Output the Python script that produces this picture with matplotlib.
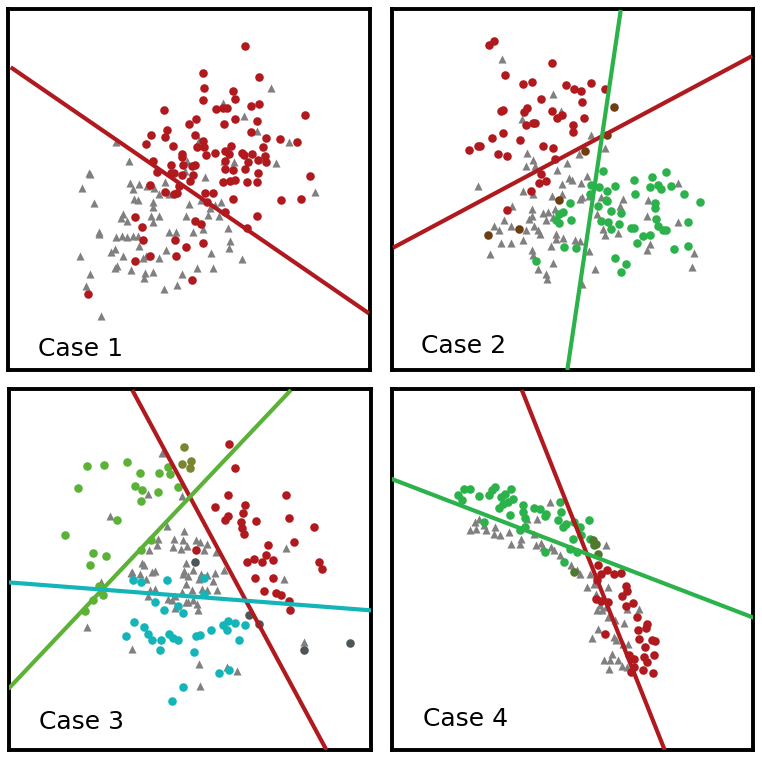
import numpy as np
import matplotlib
matplotlib.use("Agg")
from matplotlib import pyplot as plt

# point positions, in each panel's own units (0..~1100, y down)
c1_red = [(732,137),(607,218),(774,228),(610,262),(698,272),(704,296),(606,298),(490,328),(646,325),
          (668,322),(678,323),(750,318),(775,311),(912,345),(586,357),(566,370),(670,372),(702,355),
          (768,361),(500,390),(494,410),(450,403),(436,430),(582,404),(752,396),(797,413),(838,415),
          (890,424),(608,422),(590,440),(610,440),(517,438),(644,457),(690,437),(672,452),(686,462),
          (724,457),(754,462),(786,440),(730,465),(792,468),(796,484),(772,478),(544,460),(544,470),
          (616,464),(672,482),(742,486),(456,482),(512,493),(546,493),(574,497),(584,494),(468,515),
          (512,518),(520,519),(544,525),(578,525),(674,505),(698,508),(732,505),(772,517),(928,527),
          (568,543),(666,545),(688,542),(702,538),(740,546),(770,545),(448,553),(536,556),(492,576),
          (520,580),(530,578),(612,578),(638,578),(698,595),(842,600),(902,596),(618,606),(672,636),
          (770,646),(402,650),(582,661),(602,671),(738,682),(424,680),(426,720),(524,720),(606,728),
          (556,740),(448,766),(526,766),(404,782),(574,838),(262,883)]
c1_gray = [(810,262),(668,308),(731,347),(768,392),(346,424),(866,426),(384,481),(825,487),(264,519),
           (268,521),(244,563),(280,607),(388,548),(414,551),(438,558),(398,567),(460,563),(492,545),
           (476,580),(504,582),(558,482),(670,482),(700,484),(614,529),(552,512),(600,600),(564,612),
           (660,606),(644,614),(628,624),(400,596),(412,600),(456,606),(458,620),(452,646),(474,648),
           (456,664),(366,640),(360,652),(378,662),(556,648),(622,644),(654,646),(608,686),(294,694),
           (296,700),(346,711),(364,706),(380,711),(398,706),(412,708),(416,738),(504,694),(526,696),
           (576,696),(682,683),(688,721),(686,744),(496,748),(632,757),(330,756),(344,747),(368,768),
           (426,773),(436,766),(474,774),(238,766),(342,802),(348,796),(390,808),(432,817),(458,814),
           (430,833),(544,822),(588,803),(636,804),(724,776),(528,856),(490,866),(268,822),(256,858),
           (302,948),(944,576),(596,418)]
c1_lines = [((30, 1105), (200, 940))]

c2_red = [(328,135),(342,122),(376,225),(516,188),(428,252),(457,246),(558,256),(582,268),(602,273),
          (633,250),(676,266),(484,297),(606,305),(362,332),(370,330),(440,322),(432,335),(516,331),
          (530,354),(546,345),(438,373),(458,369),(466,367),(612,352),(580,373),(578,395),(336,412),
          (370,398),(420,420),(268,450),(296,436),(302,438),(354,462),(382,466),(490,437),(518,444),
          (526,476),(484,520),(478,547),(498,541),(452,573),(382,629)]
c2_mixed = [(702,319),(614,451),(680,404),(324,705),(418,687),(536,600)]
c2_green = [(668,511),(634,555),(658,561),(706,557),(680,571),(630,580),(678,600),(682,602),(570,607),
            (536,640),(548,636),(528,658),(574,658),(538,668),(654,618),(692,632),(724,638),(662,663),
            (684,666),(694,687),(718,672),(762,538),(816,530),(856,514),(810,559),(834,553),(842,566),
            (872,558),(764,580),(912,582),(958,606),(826,608),(826,624),(828,655),(834,677),(848,688),
            (858,689),(752,683),(762,684),(788,706),(810,703),(772,727),(924,664),(880,745),(922,736),
            (704,774),(738,790),(724,816),(552,740),(588,742),(468,781)]
c2_gray = [(366,178),(520,282),(544,332),(426,355),(634,404),(676,444),(596,460),(442,458),(458,480),
           (438,497),(464,497),(530,508),(560,487),(568,534),(576,538),(546,552),(602,547),(622,527),
           (294,556),(430,572),(460,580),(516,586),(546,582),(600,596),(606,590),(626,586),(664,590),
           (730,596),(804,600),(892,548),(524,625),(504,635),(490,638),(456,625),(456,648),(448,657),
           (396,616),(372,658),(342,676),(356,690),(392,678),(462,678),(474,690),(438,690),(480,700),
           (498,660),(520,650),(528,700),(548,712),(528,716),(584,720),(600,722),(514,736),(456,748),
           (460,765),(330,762),(362,728),(394,728),(428,720),(626,752),(668,686),(714,697),(674,703),
           (652,640),(720,618),(802,648),(892,666),(810,732),(800,750),(940,758),(934,800),(646,806),
           (518,789),(474,806),(498,822),(500,836),(606,851)]
c2_lines = [((40, 1115), (742, 168)), ((722, 562), (30, 1108))]

c3_green = [(262,258),(314,256),(382,245),(420,278),(478,278),(506,261),(510,283),(236,322),(406,317),
            (426,328),(474,334),(534,321),(424,361),(354,420),(196,463),(280,519),(320,528),(272,553),
            (310,643),(280,660),(258,693),(424,510),(454,480),(298,618)]
c3_olive = [(554,202),(546,252),(574,244),(570,265)]
c3_red = [(705,265),(684,343),(856,345),(646,379),(734,374),(728,398),(684,408),(676,418),(768,422),
          (866,413),(724,426),(726,444),(732,460),(940,439),(880,486),(804,495),(798,525),(742,545),
          (762,537),(786,545),(818,540),(956,545),(966,567),(764,594),(818,593),(792,632),(826,637),
          (842,645),(866,663),(870,690),(588,510),(688,193)]
c3_dark = [(586,544),(746,704),(776,732),(910,808),(1048,788)]
c3_cyan = [(400,600),(424,606),(502,600),(612,594),(612,640),(466,664),(492,688),(536,676),(550,698),
           (402,724),(432,740),(444,760),(380,766),(458,780),(484,778),(508,760),(520,773),(534,778),
           (482,808),(588,768),(600,764),(632,750),(670,735),(682,748),(684,722),(704,728),(736,733),
           (718,779),(582,816),(656,877),(686,869),(550,918),(518,962)]
c3_gray = [(486,218),(446,342),(548,348),(332,408),(502,437),(552,452),(476,476),(522,475),(550,478),
           (588,478),(600,486),(620,490),(472,494),(448,508),(520,499),(544,505),(562,498),(612,510),
           (648,516),(426,548),(432,553),(560,548),(580,568),(554,573),(550,582),(564,586),(604,582),
           (620,583),(644,578),(672,570),(398,575),(420,580),(394,578),(458,576),(466,572),(440,595),
           (598,596),(640,602),(558,610),(306,605),(452,630),(466,626),(548,634),(576,630),(606,626),
           (620,630),(650,630),(526,648),(444,648),(504,656),(516,660),(560,664),(580,660),(590,672),
           (526,684),(594,690),(564,666),(856,502),(850,597),(264,740),(396,806),(598,850),(680,860),
           (712,872),(600,916),(912,786)]
c3_lines = [((398, 978), (30, 1108)), ((28, 872), (925, 30)), ((28, 1113), (606, 690))]

c4_green = [(252,325),(270,325),(234,345),(246,360),(298,347),(326,344),(336,330),(346,320),(362,350),
            (376,340),(394,325),(398,355),(370,370),(384,365),(356,382),(390,403),(430,375),(434,412),
            (430,395),(462,382),(480,385),(494,408),(498,400),(538,365),(542,395),(532,420),(548,440),
            (556,430),(580,425),(600,440),(626,420),(578,475),(602,465),(568,505),(494,515),(550,545),
            (312,425),(420,450),(436,440),(590,515),(630,475)]
c4_mixed = [(638,478),(646,490),(640,495),(654,522),(580,575)]
c4_red = [(654,555),(662,580),(680,568),(700,580),(720,577),(736,618),(740,632),(650,600),(724,648),
          (646,655),(662,662),(684,664),(756,667),(736,678),(770,710),(800,730),(796,742),(772,748),
          (674,760),(774,775),(814,780),(822,783),(794,800),(744,825),(760,835),(790,830),(820,824),
          (800,845),(760,860),(752,875),(786,868),(816,876)]
c4_gray = [(296,415),(284,425),(312,435),(270,448),(288,446),(318,450),(346,440),(342,460),(360,465),
           (386,455),(392,490),(420,490),(424,475),(460,460),(466,495),(482,488),(488,500),(512,500),
           (522,510),(538,525),(510,365),(440,415),(470,415),(676,495),(572,555),(590,570),(600,580),
           (628,580),(620,620),(640,610),(684,620),(648,640),(658,675),(650,690),(664,690),(676,680),
           (740,685),(774,685),(682,710),(704,720),(730,728),(652,745),(702,770),(636,772),(708,780),
           (726,790),(742,790),(694,822),(670,838),(688,838),(712,838),(724,855),(686,866),(740,860)]
c4_lines = [((425, 852), (30, 1108)), ((35, 1118), (296, 712))]

titles = ["Case 1", "Case 2", "Case 3", "Case 4"]

RED = "#b0191e"
GREEN = "#2bb24a"
LGREEN = "#5bb237"
CYAN = "#14b5b8"
GRAY = "#808080"

fig = plt.figure(figsize=(7.62, 7.59), dpi=100)
W, H = 762, 759
# panel frames in figure pixels (left, top, right, bottom) and in panel units
frames = [(8, 9, 370, 370), (392, 9, 753, 370), (9, 389, 371, 750), (392, 389, 753, 750)]
limits = [(22, 1108, 1110, 25), (37, 1118, 1108, 27), (30, 1111, 1108, 27), (37, 1116, 1108, 27)]
label_pos = [(0.083, 0.040), (0.080, 0.048), (0.083, 0.058), (0.085, 0.066)]

panels = [
    ([(c1_gray, GRAY, "^")], [(c1_red, RED, "o")], [RED]),
    ([(c2_gray, GRAY, "^")], [(c2_red, RED, "o"), (c2_green, GREEN, "o"), (c2_mixed, "#6e3d12", "o")], [RED, GREEN]),
    ([(c3_gray, GRAY, "^")], [(c3_green, LGREEN, "o"), (c3_olive, "#7a8530", "o"), (c3_red, RED, "o"),
                              (c3_cyan, CYAN, "o"), (c3_dark, "#4d5558", "o")], [RED, LGREEN, CYAN]),
    ([(c4_gray, GRAY, "^")], [(c4_green, GREEN, "o"), (c4_mixed, "#4f7a2c", "o"), (c4_red, RED, "o")], [RED, GREEN]),
]
lines = [c1_lines, c2_lines, c3_lines, c4_lines]

for i in range(4):
    l, t, r, b = frames[i]
    ax = fig.add_axes([l / W, 1 - b / H, (r - l) / W, (b - t) / H])
    x0, x1, y0, y1 = limits[i]
    ax.set_xlim(x0, x1)
    ax.set_ylim(y0, y1)
    ax.set_xticks([])
    ax.set_yticks([])
    for s in ax.spines.values():
        s.set_linewidth(2.8)
    tri, dots, lcols = panels[i]
    for pts, col, mk in tri:
        p = np.array(pts)
        ax.scatter(p[:, 0], p[:, 1], s=34, c=col, marker=mk, linewidths=0, zorder=2)
    for pts, col, mk in dots:
        p = np.array(pts)
        ax.scatter(p[:, 0], p[:, 1], s=38, c=col, marker=mk, linewidths=0, zorder=3)
    for (xs, ys), col in zip(lines[i], lcols):
        ax.plot(xs, ys, color=col, lw=3.0, zorder=4, solid_capstyle="butt")
    tx, ty = label_pos[i]
    ax.text(tx, ty, titles[i], transform=ax.transAxes, fontsize=18, ha="left", va="baseline")

fig.savefig("out.png", dpi=100)
